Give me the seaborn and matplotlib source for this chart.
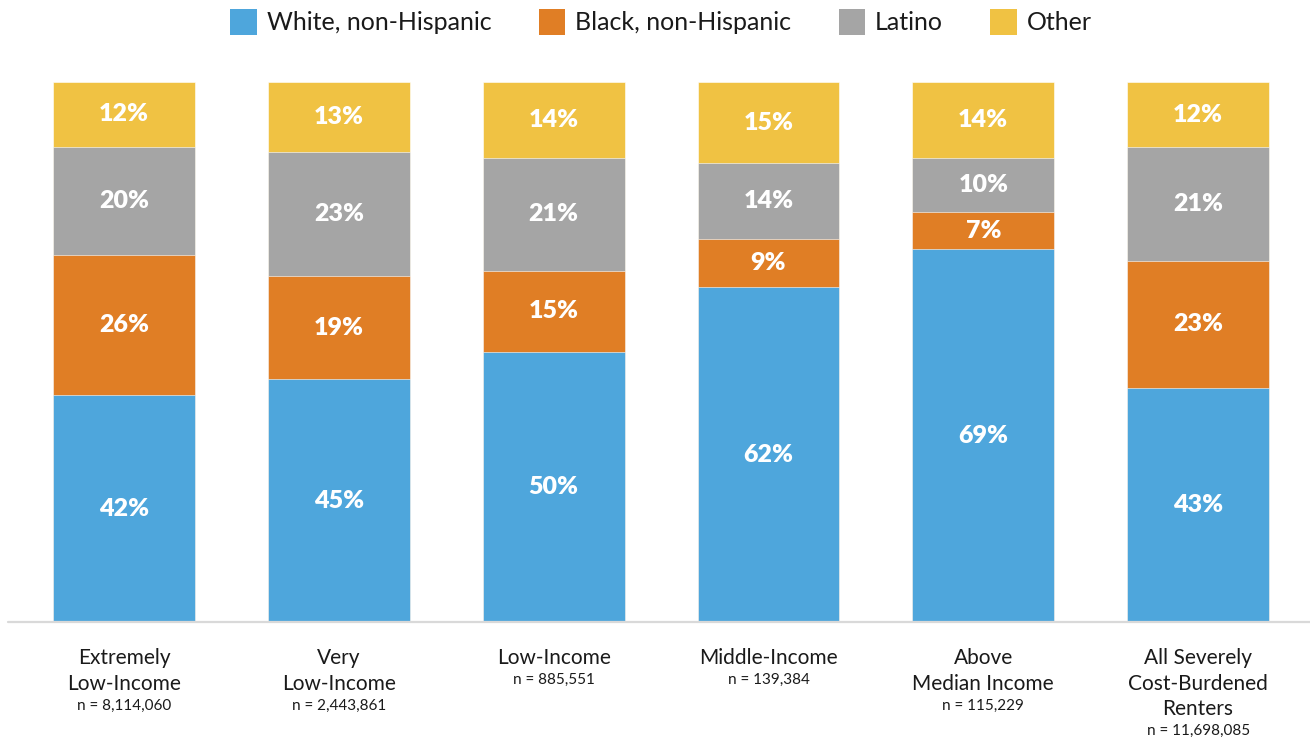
import matplotlib
matplotlib.use("Agg")
import matplotlib.pyplot as plt
from matplotlib.patches import Patch
import seaborn as sns
import pandas as pd

# Income groups (each label line drawn separately) and sample sizes
group_lines = [
    ["Extremely", "Low-Income"],
    ["Very", "Low-Income"],
    ["Low-Income"],
    ["Middle-Income"],
    ["Above", "Median Income"],
    ["All Severely", "Cost-Burdened", "Renters"],
]
group_keys = ["ELI", "VLI", "LI", "MI", "AMI", "ALL"]
sample_sizes = ["n = 8,114,060", "n = 2,443,861", "n = 885,551",
                "n = 139,384", "n = 115,229", "n = 11,698,085"]

# Share of severely cost-burdened renters by race/ethnicity (%)
white = [42, 45, 50, 62, 69, 43.4]
black = [26, 19, 15, 9, 7, 23.4]
latino = [20, 23, 21, 14, 10, 21.1]
other = [12, 13, 14, 15, 14, 12.1]

series_names = ["White, non-Hispanic", "Black, non-Hispanic", "Latino", "Other"]
series_colors = ["#4EA6DC", "#E07E25", "#A5A5A5", "#F0C243"]

sns.set_theme(style="white")
plt.rcParams["font.family"] = ["Lato", "DejaVu Sans"]

df = pd.DataFrame({"group": group_keys, "white": white, "black": black,
                   "latino": latino, "other": other})
layers = ["white", "black", "latino", "other"]
cum = df[layers].cumsum(axis=1)

fig = plt.figure(figsize=(13.1, 7.4), dpi=100)
ax = fig.add_axes([8 / 1310, 118 / 740, 1 - 8 / 1310, 540 / 740])

# Stack by overlaying cumulative totals, tallest first
for layer, color in reversed(list(zip(layers, series_colors))):
    sns.barplot(x=df["group"], y=cum[layer], color=color, saturation=1,
                width=0.66, edgecolor="white", linewidth=0.4, ax=ax,
                order=group_keys, errorbar=None)

# Segment value labels
for i in range(len(group_keys)):
    bottom = 0.0
    for layer in layers:
        v = df.loc[i, layer]
        ax.text(i, bottom + v / 2, f"{v:.0f}%", ha="center", va="center",
                color="white", fontsize=18, fontweight="heavy")
        bottom += v

ax.set_xlim(-0.54, 5.521)
ax.set_ylim(0, 100)
ax.axhline(0, color="#D9D9D9", lw=1.6, zorder=5, clip_on=False)
ax.set_xlabel("")
ax.set_ylabel("")
ax.set_xticks([])
ax.set_yticks([])
for s in ax.spines.values():
    s.set_visible(False)

# Category labels under the bars (offsets in pixels below the baseline)
px = 72 / 100
for i, lines in enumerate(group_lines):
    off = 36
    for k, line in enumerate(lines):
        off = 36 + 25.5 * k
        ax.annotate(line, xy=(i, 0), xycoords=("data", "axes fraction"),
                    xytext=(0, -off * px), textcoords="offset points",
                    ha="center", va="center", fontsize=15, color="#1A1A1A")
    ax.annotate(sample_sizes[i], xy=(i, 0), xycoords=("data", "axes fraction"),
                xytext=(0, -(off + 22) * px), textcoords="offset points",
                ha="center", va="center", fontsize=11, color="#1A1A1A")

handles = [Patch(facecolor=c, edgecolor="none", label=n)
           for n, c in zip(series_names, series_colors)]
fig.legend(handles=handles, loc="center", bbox_to_anchor=(661 / 1310, 1 - 22 / 740),
           ncol=4, frameon=False, fontsize=18, handlelength=1.05,
           handleheight=1.2, handletextpad=0.4, columnspacing=1.9,
           labelcolor="#1A1A1A")

fig.savefig("out.png", dpi=100)
